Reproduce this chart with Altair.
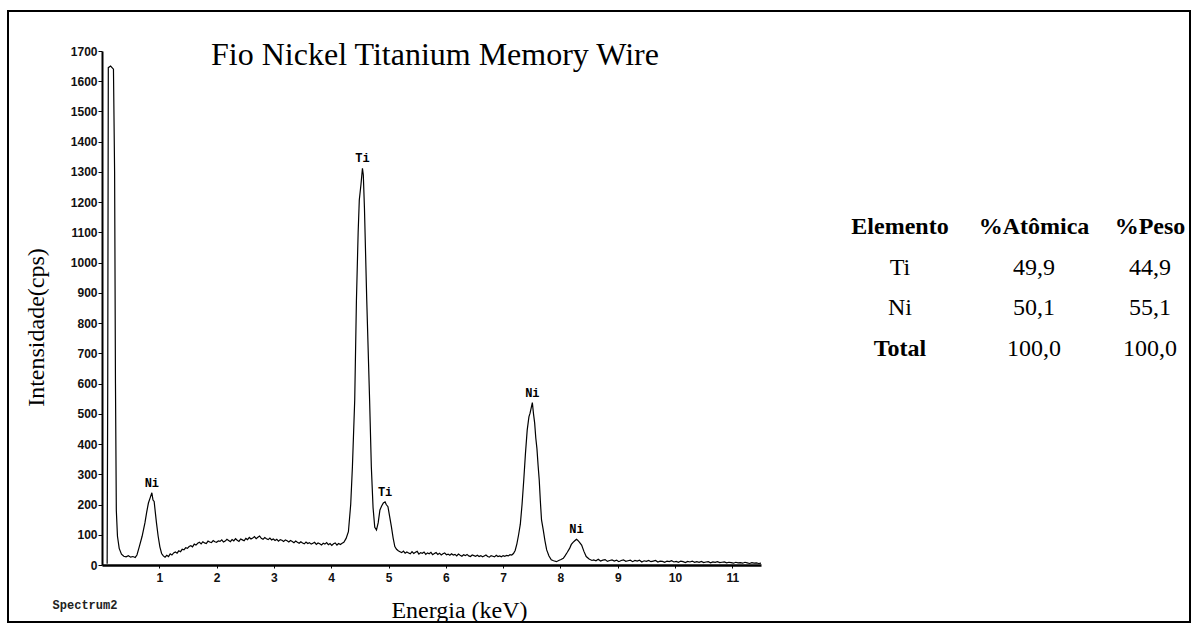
import altair as alt
import pandas as pd

# ---- spectrum (energy in keV, intensity in cps) ----
low_energy_kev = [0.09, 0.10, 0.11, 0.15, 0.20, 0.22, 0.235, 0.25, 0.27, 0.30, 0.34, 0.38, 0.42, 0.46, 0.50,
                  0.54, 0.58, 0.61, 0.65, 0.70, 0.75, 0.78, 0.81, 0.84, 0.87, 0.89, 0.91, 0.93, 0.95, 0.98,
                  1.01, 1.04, 1.07, 1.10, 1.13, 1.16, 1.19, 1.22, 1.25, 1.28, 1.31, 1.34, 1.37, 1.40, 1.43,
                  1.46, 1.49, 1.52, 1.55, 1.58, 1.61, 1.64, 1.67, 1.70, 1.73, 1.76, 1.79, 1.82, 1.85, 1.88,
                  1.91, 1.94, 1.97, 2.00, 2.03, 2.06, 2.09, 2.12, 2.15, 2.18, 2.21, 2.24, 2.27, 2.30, 2.33,
                  2.36, 2.39, 2.42, 2.45, 2.48, 2.51, 2.54, 2.57, 2.60, 2.63, 2.66, 2.69, 2.72, 2.75, 2.78,
                  2.81, 2.84, 2.87, 2.90, 2.93, 2.96, 2.99, 3.02, 3.05, 3.08, 3.11, 3.14, 3.17, 3.20, 3.23,
                  3.26, 3.29, 3.32, 3.35, 3.38, 3.41, 3.44, 3.47, 3.50, 3.53, 3.56, 3.59, 3.62, 3.65, 3.68,
                  3.71, 3.74, 3.77, 3.80, 3.83, 3.86, 3.89, 3.92, 3.95, 3.98, 4.01, 4.04, 4.07, 4.10, 4.13,
                  4.16, 4.19]
low_cps = [4, 600, 1645, 1650, 1640, 1300, 600, 180, 95, 55, 36, 29, 27, 31, 26,
           28, 25, 33, 60, 95, 140, 175, 205, 222, 239, 215, 210, 175, 140, 95,
           60, 38, 30, 26,
           32, 28, 37, 33, 40, 43, 39, 47, 44, 52, 50, 57, 55, 61, 64,
           60, 69, 66, 72, 75, 70, 77, 73, 71, 79, 76, 74, 81, 77, 75,
           80, 78, 83, 76, 79, 85, 81, 77, 84, 80, 87, 82, 78, 86, 83,
           80, 88, 84, 91, 86, 89, 94, 87, 92, 96, 88, 85, 91, 87, 84,
           89, 83, 86, 81, 85, 79, 84, 82, 78, 83, 80, 76, 81, 78, 74,
           79, 75, 72, 77, 73, 70, 76, 71, 74, 69, 72, 75, 68, 73, 70,
           66, 72, 69, 74, 67, 71, 65, 70, 73, 66, 71, 68, 72]

ti_energy_kev = [4.22, 4.26, 4.30, 4.34, 4.37, 4.41, 4.44, 4.47, 4.49, 4.52, 4.545, 4.56, 4.58, 4.62, 4.67,
                 4.70, 4.73, 4.76, 4.79, 4.82, 4.85, 4.88, 4.91, 4.94, 4.96, 4.99, 5.02, 5.05, 5.08, 5.11,
                 5.14, 5.17, 5.20, 5.23, 5.26, 5.29, 5.32, 5.35, 5.38, 5.41, 5.44, 5.47, 5.50, 5.53, 5.56,
                 5.59, 5.62, 5.65, 5.68, 5.71, 5.74, 5.77, 5.80, 5.83, 5.86, 5.89, 5.92, 5.95, 5.98, 6.01,
                 6.04, 6.07, 6.10, 6.13, 6.16, 6.19, 6.22, 6.25, 6.28, 6.31, 6.34, 6.37, 6.40, 6.43, 6.46,
                 6.49, 6.52, 6.55, 6.58, 6.61, 6.64, 6.67, 6.70, 6.73, 6.76, 6.79, 6.82, 6.85, 6.88, 6.91,
                 6.94, 6.97, 7.00, 7.03, 7.06, 7.09, 7.12, 7.15, 7.18, 7.21]
ti_cps = [75, 88, 110, 200, 325, 545, 876, 1100, 1207, 1260, 1312, 1290, 1180, 876, 545,
          325, 190, 125, 116, 140, 182, 195, 205, 209, 200, 193, 160, 127, 90, 61,
          52, 47, 44,
          41, 46, 39, 43, 40, 37, 44, 38, 42, 45, 36, 41, 39, 43, 35,
          40, 37, 42, 34, 38, 41, 35, 39, 33, 37, 40, 34, 36, 32, 37,
          33, 35, 30, 36, 32, 29, 34, 31, 35, 30, 28, 33, 31, 29, 32,
          28, 31, 27, 30, 33, 28, 26, 31, 29, 27, 32, 28, 30, 27, 31,
          29, 32, 30, 34, 33, 38, 48]

ni_energy_kev = [7.24, 7.27, 7.30, 7.33, 7.36, 7.39, 7.42, 7.45, 7.47, 7.49, 7.51, 7.53, 7.55, 7.57, 7.59,
                 7.61, 7.63, 7.65, 7.67, 7.70, 7.73, 7.76, 7.80, 7.84, 7.88, 7.93, 7.97, 8.01, 8.05, 8.08,
                 8.12, 8.16, 8.19, 8.22, 8.25, 8.28, 8.30, 8.33, 8.37, 8.41, 8.45, 8.50, 8.55, 8.58, 8.62,
                 8.66, 8.70, 8.74, 8.78, 8.82, 8.86, 8.90, 8.94, 8.98, 9.02, 9.06, 9.10, 9.14, 9.18, 9.22,
                 9.26, 9.30, 9.34, 9.38, 9.42, 9.46, 9.50, 9.54, 9.58, 9.62, 9.66, 9.70, 9.74, 9.78, 9.82,
                 9.86, 9.90, 9.94, 9.98, 10.02, 10.06, 10.10, 10.14, 10.18, 10.22, 10.26, 10.30, 10.34, 10.38, 10.42,
                 10.46, 10.50, 10.54, 10.58, 10.62, 10.66, 10.70, 10.74, 10.78, 10.82, 10.86, 10.90, 10.94, 10.98, 11.02,
                 11.06, 11.10, 11.14, 11.18, 11.22, 11.26, 11.30, 11.34, 11.38, 11.42, 11.46, 11.50]
ni_cps = [70, 100, 135, 200, 281, 370, 446, 490, 502, 520, 537, 500, 470, 420, 385,
          330, 281, 210, 149, 116, 80, 50, 30, 17, 14, 11, 15, 18, 22, 30,
          42, 55, 68, 75, 80, 85, 82, 76, 66, 45, 28, 20, 15,
          17, 14, 19, 13, 16, 18, 12, 15, 17, 13, 16, 11, 15, 17, 12,
          14, 16, 11, 15, 13, 16, 10, 14, 12, 15, 11, 13, 15, 10, 13,
          12, 9, 13, 11, 14, 10, 12, 9, 13, 11, 8, 12, 10, 13, 9,
          11, 9, 12, 8, 10, 11, 7, 10, 9, 11, 8, 9, 10, 7, 9,
          8, 6, 9, 7, 8, 6, 9, 7, 5, 8, 6, 7, 5, 6]

# ---- peak labels ----
peak_labels = ["Ni", "Ti", "Ti", "Ni", "Ni"]
peak_energy_kev = [0.87, 4.545, 4.94, 7.51, 8.28]
peak_cps = [239, 1312, 209, 537, 85]

# ---- axis tick values ----
x_ticks = [1, 2, 3, 4, 5, 6, 7, 8, 9, 10, 11]
y_ticks = [0, 100, 200, 300, 400, 500, 600, 700, 800, 900, 1000, 1100, 1200, 1300, 1400, 1500, 1600, 1700]

# ---- composition table ----
table_header = ["Elemento", "%Atômica", "%Peso"]
table_elements = ["Ti", "Ni"]
table_atomic = ["49,9", "50,1"]
table_weight = ["44,9", "55,1"]
table_total = ["Total", "100,0", "100,0"]

spec_df = pd.DataFrame({
    "energy": low_energy_kev + ti_energy_kev + ni_energy_kev,
    "cps": low_cps + ti_cps + ni_cps,
})
peaks_df = pd.DataFrame({"energy": peak_energy_kev, "cps": peak_cps, "label": peak_labels})
one = pd.DataFrame({"a": [0]})

SERIF = "Liberation Serif"

x_axis = alt.Axis(
    values=x_ticks, tickCount=30, format="d", title="Energia (keV)",
    titleFont=SERIF, titleFontSize=24, titleFontWeight="normal", titleColor="black",
    titleX=357, titleY=52, titleAlign="center", titleBaseline="alphabetic",
    labelFont="Liberation Sans", labelFontSize=12, labelFontWeight="bold", labelColor="#111",
    labelPadding=4, tickSize=3, tickColor="black", domainColor="black", domainWidth=2.5,
    grid=False, labelFlush=False, labelOverlap=False,
)
y_axis = alt.Axis(
    values=y_ticks, tickCount=30, format="d", title="Intensidade(cps)",
    titleFont=SERIF, titleFontSize=24, titleFontWeight="normal", titleColor="black",
    titleX=-66, titleY=276, titleAngle=270, titleAlign="center", titleBaseline="middle",
    labelFont="Liberation Sans", labelFontSize=12, labelFontWeight="bold", labelColor="#111",
    labelPadding=1, tickSize=4, tickColor="black", domainColor="black", domainWidth=2,
    grid=False, labelFlush=False, labelOverlap=False,
)

line = alt.Chart(spec_df).mark_line(color="black", strokeWidth=1.2).encode(
    x=alt.X("energy:Q", scale=alt.Scale(domain=[0, 11.5], nice=False, zero=False), axis=x_axis),
    y=alt.Y("cps:Q", scale=alt.Scale(domain=[0, 1700], nice=False), axis=y_axis),
)

peak_text = alt.Chart(peaks_df).mark_text(
    font="Liberation Mono", fontWeight="bold", fontSize=12, baseline="bottom", dy=-3, color="black"
).encode(x="energy:Q", y="cps:Q", text="label:N")

title_text = alt.Chart(one).mark_text(
    font=SERIF, fontSize=32, align="center", baseline="alphabetic", color="black"
).encode(x=alt.value(333), y=alt.value(14), text=alt.value("Fio Nickel Titanium Memory Wire"))

spectrum_name = alt.Chart(one).mark_text(
    font="Liberation Mono", fontSize=12, fontWeight="bold", align="center", baseline="middle", color="#222"
).encode(x=alt.value(-17), y=alt.value(554), text=alt.value("Spectrum2"))

border = alt.Chart(one).mark_rect(fill=None, stroke="black", strokeWidth=2).encode(
    x=alt.value(-94), x2=alt.value(1088), y=alt.value(-40), y2=alt.value(571)
)

# table layout
col_x = [798, 932, 1048]
row_y = [183, 224, 264, 305]
table_layers = []
for j, h in enumerate(table_header):
    table_layers.append(alt.Chart(one).mark_text(
        font=SERIF, fontSize=24, fontWeight="bold", align="center", baseline="alphabetic", color="black"
    ).encode(x=alt.value(col_x[j]), y=alt.value(row_y[0]), text=alt.value(h)))
body_rows = [[table_elements[i], table_atomic[i], table_weight[i]] for i in range(len(table_elements))]
for i, row in enumerate(body_rows):
    for j, v in enumerate(row):
        table_layers.append(alt.Chart(one).mark_text(
            font=SERIF, fontSize=24, align="center", baseline="alphabetic", color="black"
        ).encode(x=alt.value(col_x[j]), y=alt.value(row_y[i + 1]), text=alt.value(v)))
for j, v in enumerate(table_total):
    table_layers.append(alt.Chart(one).mark_text(
        font=SERIF, fontSize=24, fontWeight="bold" if j == 0 else "normal",
        align="center", baseline="alphabetic", color="black"
    ).encode(x=alt.value(col_x[j]), y=alt.value(row_y[3]), text=alt.value(v)))

chart = alt.layer(line, peak_text, title_text, spectrum_name, border, *table_layers).properties(
    width=659, height=514,
    padding={"left": 102, "top": 51, "right": 431, "bottom": 59},
    autosize=alt.AutoSizeParams(type="none"),
    background="white",
).configure_view(stroke=None)

chart.save("out.html", embed_options={"renderer": "svg", "actions": False})
